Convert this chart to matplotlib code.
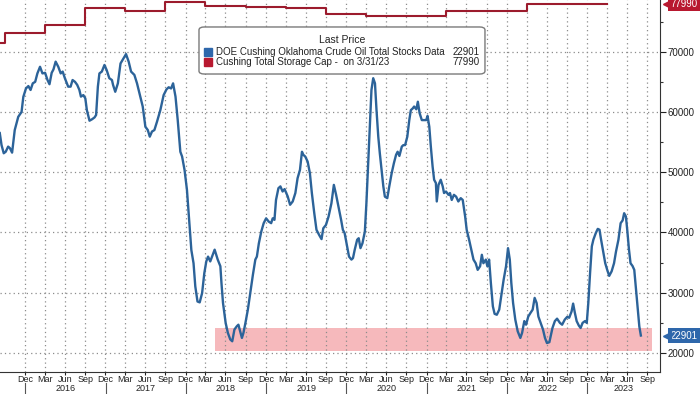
import matplotlib
matplotlib.use("Agg")
import matplotlib.pyplot as plt
import matplotlib.dates as mdates
import matplotlib.transforms as mtransforms
from matplotlib.patches import Rectangle, FancyBboxPatch
import pandas as pd

plt.rcParams["font.family"] = ["Liberation Sans", "DejaVu Sans"]

# weekly Cushing crude stocks (thousand barrels)
stock_dates = [
    "2015-09-08", "2015-09-16", "2015-09-26", "2015-10-05", "2015-10-16", "2015-10-24", "2015-11-03",
    "2015-11-15", "2015-12-01", "2015-12-16", "2015-12-24", "2016-01-05", "2016-01-16", "2016-01-26",
    "2016-02-05", "2016-02-16", "2016-02-26", "2016-03-09", "2016-03-20", "2016-04-01", "2016-04-12",
    "2016-04-21", "2016-05-01", "2016-05-09", "2016-05-19", "2016-05-31", "2016-06-11", "2016-06-20",
    "2016-06-30", "2016-07-15", "2016-07-26", "2016-08-04", "2016-08-15", "2016-08-25", "2016-09-04",
    "2016-09-11", "2016-09-22", "2016-10-01", "2016-10-08", "2016-10-20", "2016-11-01", "2016-11-12",
    "2016-11-19", "2016-11-27", "2016-12-04", "2016-12-15", "2016-12-27", "2017-01-06", "2017-01-18",
    "2017-01-30", "2017-02-04", "2017-02-14", "2017-02-26", "2017-03-10", "2017-03-24", "2017-04-04",
    "2017-04-16", "2017-04-27", "2017-05-12", "2017-05-24", "2017-06-08", "2017-06-19", "2017-07-01",
    "2017-07-12", "2017-07-21", "2017-07-31", "2017-08-11", "2017-08-23", "2017-09-07", "2017-09-22",
    "2017-10-05", "2017-10-15", "2017-10-26", "2017-11-04", "2017-11-15", "2017-11-25", "2017-12-07",
    "2017-12-15", "2017-12-26", "2018-01-06", "2018-01-15", "2018-01-26", "2018-02-05", "2018-02-13",
    "2018-02-23", "2018-03-05", "2018-03-16", "2018-03-26", "2018-04-04", "2018-04-12", "2018-04-22",
    "2018-05-03", "2018-05-12", "2018-05-26", "2018-06-07", "2018-06-12", "2018-06-19", "2018-07-01",
    "2018-07-11", "2018-07-22", "2018-07-31", "2018-08-10", "2018-08-21", "2018-08-28", "2018-09-05",
    "2018-09-13", "2018-09-20", "2018-09-29", "2018-10-10", "2018-10-21", "2018-11-02", "2018-11-13",
    "2018-11-20", "2018-11-29", "2018-12-10", "2018-12-21", "2019-01-01", "2019-01-13", "2019-01-24",
    "2019-01-31", "2019-02-08", "2019-02-15", "2019-02-26", "2019-03-07", "2019-03-17", "2019-03-26",
    "2019-04-09", "2019-04-20", "2019-05-02", "2019-05-14", "2019-05-24", "2019-06-04", "2019-06-13",
    "2019-06-19", "2019-06-28", "2019-07-09", "2019-07-19", "2019-07-28", "2019-08-08", "2019-08-18",
    "2019-08-30", "2019-09-10", "2019-09-18", "2019-09-30", "2019-10-12", "2019-10-25", "2019-11-05",
    "2019-11-15", "2019-11-26", "2019-12-08", "2019-12-16", "2019-12-24", "2020-01-04", "2020-01-13",
    "2020-01-24", "2020-01-31", "2020-02-08", "2020-02-19", "2020-02-26", "2020-03-05", "2020-03-14",
    "2020-03-25", "2020-04-01", "2020-04-09", "2020-04-17", "2020-04-24", "2020-05-02", "2020-05-10",
    "2020-05-17", "2020-05-25", "2020-06-01", "2020-06-09", "2020-06-17", "2020-06-24", "2020-07-05",
    "2020-07-14", "2020-07-25", "2020-08-04", "2020-08-14", "2020-08-21", "2020-08-29", "2020-09-09",
    "2020-09-16", "2020-09-24", "2020-10-04", "2020-10-13", "2020-10-20", "2020-10-29", "2020-11-04",
    "2020-11-14", "2020-11-21", "2020-11-29", "2020-12-09", "2020-12-20", "2020-12-29", "2021-01-04",
    "2021-01-12", "2021-01-19", "2021-01-27", "2021-02-03", "2021-02-11", "2021-02-15", "2021-02-23",
    "2021-03-05", "2021-03-14", "2021-03-20", "2021-03-29", "2021-04-09", "2021-04-16", "2021-04-24",
    "2021-05-04", "2021-05-14", "2021-05-24", "2021-06-04", "2021-06-13", "2021-06-24", "2021-07-01",
    "2021-07-12", "2021-07-24", "2021-08-01", "2021-08-11", "2021-08-20", "2021-08-31", "2021-09-08",
    "2021-09-15", "2021-09-26", "2021-10-03", "2021-10-11", "2021-10-19", "2021-10-28", "2021-11-05",
    "2021-11-15", "2021-11-26", "2021-12-05", "2021-12-16", "2021-12-27", "2022-01-05", "2022-01-13",
    "2022-01-20", "2022-01-28", "2022-02-07", "2022-02-18", "2022-03-02", "2022-03-10", "2022-03-20",
    "2022-03-28", "2022-04-07", "2022-04-17", "2022-04-27", "2022-05-06", "2022-05-15", "2022-05-23",
    "2022-06-02", "2022-06-13", "2022-06-22", "2022-07-01", "2022-07-12", "2022-07-26", "2022-08-06",
    "2022-08-16", "2022-08-29", "2022-09-08", "2022-09-20", "2022-10-01", "2022-10-10", "2022-10-21",
    "2022-10-28", "2022-11-05", "2022-11-13", "2022-11-23", "2022-12-01", "2022-12-10", "2022-12-21",
    "2022-12-29", "2023-01-05", "2023-01-13", "2023-01-21", "2023-01-28", "2023-02-08", "2023-02-17",
    "2023-02-25", "2023-03-03", "2023-03-12", "2023-03-23", "2023-04-01", "2023-04-10", "2023-04-21",
    "2023-05-02", "2023-05-11", "2023-05-22", "2023-06-01", "2023-06-10", "2023-06-17", "2023-06-25",
    "2023-07-01", "2023-07-09", "2023-07-16", "2023-07-25", "2023-08-02", "2023-08-10", "2023-08-18",
    "2023-08-25", "2023-09-01",
]
stock_vals = [
    56500, 54500, 53150, 53400, 54250, 54000, 53250,
    57000, 59200, 60000, 62500, 63900, 64300, 63650,
    64750, 65000, 66400, 67500, 66400, 66500, 65300,
    64600, 66500, 67050, 68350, 67500, 66400, 66700,
    65600, 64200, 64200, 65300, 65000, 64500, 63650,
    62550, 62800, 62250, 60300, 58550, 58800, 59100,
    59500, 64200, 66400, 66700, 67800, 66950, 65600,
    65300, 64500, 63350, 64750, 68050, 68900, 69600,
    68350, 66700, 66150, 64750, 62550, 60900, 57550,
    57000, 55900, 56750, 57000, 58400, 60300, 62800,
    63750, 64100, 63900, 64750, 62550, 58700, 53400,
    52600, 50400, 47100, 42650, 37100, 34900, 31050,
    28550, 28400, 29950, 33250, 35200, 36000, 35200,
    36300, 37150, 35500, 34400, 31600, 28300, 25000,
    23350, 22250, 21950, 23900, 24450, 24700, 23600,
    22500, 23350, 25000, 27200, 29950, 33000, 35500,
    36000, 38200, 40150, 41550, 42350, 41800, 41550,
    42350, 42100, 45400, 47350, 47650, 46800, 47200,
    46000, 44600, 45150, 46550, 49000, 50400, 53400,
    52900, 52600, 51750, 49850, 46550, 43200, 40450,
    39600, 38900, 40700, 41250, 42650, 44850, 47900,
    46300, 44300, 42100, 40450, 39900, 37700, 36000,
    35500, 35750, 37150, 38800, 39050, 37400, 38200,
    40150, 44850, 51500, 58100, 63650, 65600, 64750,
    60300, 55900, 53150, 50400, 47650, 45950, 45700,
    47650, 49850, 51500, 52900, 53400, 52700, 54250,
    54500, 54500, 55900, 58650, 60300, 60600, 60900,
    60450, 61700, 59800, 58650, 58650, 58650, 59350,
    57550, 54250, 50950, 48750, 48200, 45150, 47900,
    48750, 47650, 46550, 46800, 46250, 46550, 45400,
    46250, 45950, 45150, 45700, 45400, 42650, 40450,
    38800, 36850, 35500, 34900, 33800, 34400, 36300,
    34900, 35500, 34400, 35500, 31600, 27750, 26500,
    26350, 27200, 29400, 32150, 34400, 37400, 35500,
    31600, 28300, 25550, 23600, 22500, 23350, 25300,
    24700, 26050, 26650, 27200, 29150, 28300, 26050,
    25000, 23900, 22500, 21650, 21800, 24150, 25300,
    25700, 25000, 24700, 25550, 26000, 25850, 26900,
    28200, 26650, 25300, 24550, 24150, 25000, 25300,
    25000, 28300, 33250, 37700, 38800, 39900, 40600,
    40450, 39050, 37150, 34900, 33800, 32800, 33550,
    34900, 36850, 38800, 41550, 42000, 43200, 42650,
    40450, 37150, 34900, 34450, 33800, 30500, 27300,
    24400, 22901,
]

# semi-annual working storage capacity at Cushing
cap_dates = [
    "2015-09-09", "2015-09-30", "2016-03-31", "2016-09-30", "2017-03-31", "2017-09-30",
    "2018-03-31", "2018-09-30", "2019-03-31", "2019-09-30", "2020-03-31", "2020-09-30",
    "2021-03-31", "2021-09-30", "2022-03-31", "2022-09-30", "2023-03-31",
]
cap_vals = [
    71400, 73050, 74500, 77200, 76700, 78300,
    77550, 77350, 77200, 76200, 75900, 75900,
    76700, 76700, 77990, 77990, 77990,
]

band_dates = ["2018-05-14", "2023-10-20"]
band_vals = [20400, 24200]

stock_label = "DOE Cushing Oklahoma Crude Oil Total Stocks Data"
cap_label = "Cushing Total Storage Cap -  on 3/31/23"

BLUE = "#2c6399"
RED = "#9c1b2d"
BLUE_TAG = "#2e67ab"
RED_TAG = "#b8182f"
GRID = "#8c8c8c"
TXT = "#222222"

fig = plt.figure(figsize=(7, 3.94), dpi=100)
ax = fig.add_axes([0, 0.0566, 660 / 700, 1 - 0.0566])

sd = pd.to_datetime(stock_dates)
cd = pd.to_datetime(cap_dates)

b0, b1 = mdates.date2num(pd.to_datetime(band_dates))
ax.add_patch(Rectangle((b0, band_vals[0]), b1 - b0, band_vals[1] - band_vals[0],
                       facecolor="#f6b9bc", edgecolor="none", zorder=0.4))
ax.plot(cd, cap_vals, drawstyle="steps-post", color=RED, lw=1.5, zorder=3)
ax.plot(sd, stock_vals, color=BLUE, lw=1.7, zorder=3, solid_joinstyle="round")

ax.set_xlim(pd.Timestamp("2015-09-09"), pd.Timestamp("2023-11-27"))
ax.set_ylim(16900, 78580)

# axes styling
for side in ["top", "left"]:
    ax.spines[side].set_visible(False)
ax.spines["right"].set_color("#333333")
ax.spines["bottom"].set_color("#333333")

quarter_ends = pd.date_range("2015-12-31", "2023-09-30", freq=pd.offsets.QuarterEnd())
ax.set_xticks(quarter_ends)
ax.xaxis.set_major_formatter(mdates.DateFormatter("%b"))
ax.tick_params(axis="x", length=2, width=0.8, pad=0.5, labelsize=6.5, colors=TXT)

ax.yaxis.tick_right()
ax.set_yticks(range(20000, 70001, 10000))
ax.set_yticks(range(25000, 75001, 10000), minor=True)
ax.tick_params(axis="y", which="major", length=4, width=0.8, pad=1.5, labelsize=7, colors=TXT)
ax.tick_params(axis="y", which="minor", length=2, width=0.8, colors="#333333")

ax.set_axisbelow(True)
ax.grid(True, which="major", color=GRID, linestyle=(0, (1, 2.5)), linewidth=0.9)

# year labels and separators under the month ticks
trans = mtransforms.blended_transform_factory(ax.transData, ax.transAxes)
x0, x1 = ax.get_xlim()
for yr in range(2016, 2024):
    start = mdates.date2num(pd.Timestamp(f"{yr}-01-01"))
    end = mdates.date2num(pd.Timestamp(f"{yr + 1}-01-01"))
    mid = (max(start, x0) + min(end, x1)) / 2
    ax.text(mid, -0.0465, str(yr), transform=trans, ha="center", va="center",
            fontsize=6.5, color=TXT)
    ax.plot([start, start], [-0.03, -0.065], transform=trans, clip_on=False,
            color="#555555", lw=0.8)

# last value tags on the right axis
tag_tr = mtransforms.blended_transform_factory(ax.transAxes, ax.transData)
for val, col in [(stock_vals[-1], BLUE_TAG), (cap_vals[-1], RED_TAG)]:
    ax.text(1.016, val, f"{val}", transform=tag_tr, ha="left", va="center", fontsize=7,
            color="white", bbox=dict(boxstyle="square,pad=0.25", fc=col, ec="none"),
            clip_on=False, zorder=6)
    ax.plot([1.011], [val], marker="<", ms=6, color=col, transform=tag_tr,
            clip_on=False, zorder=6)

# legend box drawn by hand so the values line up on the right
ax.add_patch(FancyBboxPatch((0.3015, 0.8009), 0.4333, 0.1265,
                            boxstyle="round,pad=0,rounding_size=0.008",
                            transform=ax.transAxes, fc="white", ec="#7a7a7a",
                            lw=1, zorder=5))
ax.text(0.518, 0.893, "Last Price", transform=ax.transAxes, ha="center", va="center",
        fontsize=7.5, color=TXT, zorder=6)
rows = [(0.860, BLUE_TAG, stock_label, stock_vals[-1]),
        (0.832, RED_TAG, cap_label, cap_vals[-1])]
for yy, col, label, val in rows:
    ax.plot([0.315], [yy], marker="s", ms=5.5, color=col, transform=ax.transAxes,
            zorder=6, clip_on=False)
    ax.text(0.327, yy, label, transform=ax.transAxes, ha="left", va="center",
            fontsize=7, color=TXT, zorder=6)
    ax.text(0.726, yy, f"{val}", transform=ax.transAxes, ha="right", va="center",
            fontsize=7, color=TXT, zorder=6)

fig.savefig("out.png", dpi=100)
plt.close(fig)
